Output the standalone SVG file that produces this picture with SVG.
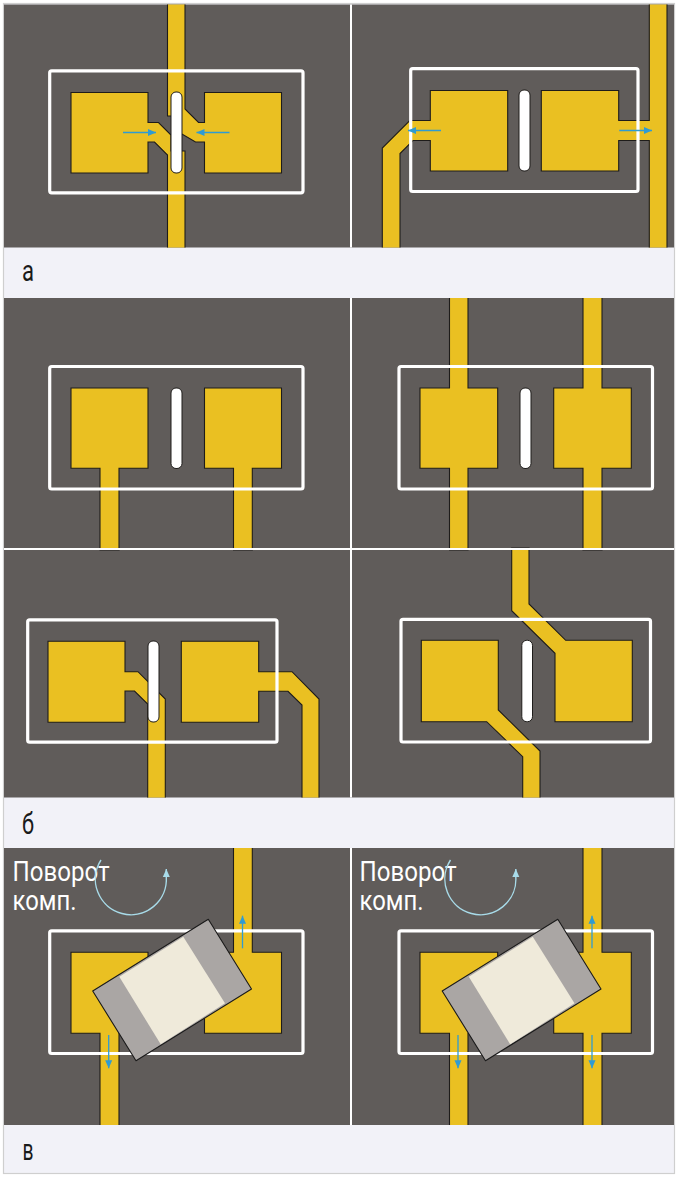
<svg xmlns="http://www.w3.org/2000/svg" width="677" height="1180" viewBox="0 0 677 1180">
<style>
.panel{fill:#605c5a}
.pad{fill:#eac022;stroke:#1e1c1a;stroke-width:1.1;stroke-linejoin:miter;clip-path:url(#pc)}
.frame{fill:none;stroke:#fff;stroke-width:3.2}
.slot{fill:#fff;stroke:#1e1c1a;stroke-width:1}
.ar{fill:none;stroke:#2f9bd3;stroke-width:1.3;marker-end:url(#ah)}
.rot{fill:none;stroke:#a8dbe9;stroke-width:1.4;marker-end:url(#rh)}
.lab{font-family:"Roboto","Liberation Sans",sans-serif;font-weight:400;font-size:28px;fill:#fff}
.capt{font-family:"Roboto","Liberation Sans",sans-serif;font-size:30px;fill:#1a1a1a}
.body{fill:#aaa6a4;stroke:#1a1a1a;stroke-width:1.1;stroke-linejoin:round}
.mid{fill:#efeada}
</style>
<defs>
<clipPath id="pc">
<rect x="4" y="4.500" width="670" height="243"/>
<rect x="4" y="298" width="670" height="250"/>
<rect x="4" y="550" width="670" height="247.500"/>
<rect x="4" y="848" width="670" height="277"/>
</clipPath>
<marker id="ah" markerUnits="userSpaceOnUse" markerWidth="9" markerHeight="8" refX="8" refY="4" orient="auto"><path d="M0,0.500L8,4L0,7.500Z" fill="#2f9bd3"/></marker>
<marker id="rh" markerUnits="userSpaceOnUse" markerWidth="9" markerHeight="8" refX="8" refY="4" orient="auto"><path d="M0,0.500L8,4L0,7.500Z" fill="#a8dbe9"/></marker>
<g id="chip"><path class="body" d="M92.700,991L208.300,919.300L251.500,989L136,1060.700Z"/><path class="mid" d="M119.300,976.700L183.300,936.700L225,1003.300L160.700,1044.300Z"/></g>
</defs>
<rect x="0" y="0" width="677" height="1180" fill="#fff"/>
<rect x="3.500" y="3.500" width="671" height="1170" fill="#f2f2f8" stroke="#cfcfcf" stroke-width="1.200"/>
<g id="panels">
<rect class="panel" x="4" y="4.500" width="670" height="243"/>
<rect class="panel" x="4" y="298" width="670" height="250"/>
<rect class="panel" x="4" y="550" width="670" height="247.500"/>
<rect class="panel" x="4" y="848" width="670" height="277"/>
<path d="M351,4.500V247.500M351,298V797.500M351,848V1125" stroke="#fff" stroke-width="2" fill="none"/>
<path d="M4,549H674" stroke="#fff" stroke-width="2" fill="none"/>
</g>

<g id="a-left">
<path class="pad" d="M71,92.500H148V122.500H158.500L171,135V151H185V250H167.500V155L154.500,142H148V173H71Z"/>
<path class="pad" d="M281.500,92.500H204.500V122.500H198.500L185,109V2H167.500V116H175V130L195.500,142H204.500V173H281.500Z"/>
<rect class="frame" x="49.700" y="70.800" width="253.300" height="122" rx="2"/>
<rect class="slot" x="171" y="92" width="11" height="81" rx="5"/>
</g>
<g id="a-right">
<path class="pad" d="M430.300,90.500H507.700V171H430.300V140.500H413L400,153.500V250H382.300V148L409.800,120.500H430.300Z"/>
<path class="pad" d="M618.700,90.500H541.300V171H618.700V140.500H649.300V250H667V2H649.300V120.500H618.700Z"/>
<rect class="frame" x="410.700" y="68.700" width="227.300" height="122.800" rx="2"/>
<rect class="slot" x="519" y="90" width="11" height="81" rx="5"/>
</g>
<text class="capt" x="22" y="281" textLength="12" lengthAdjust="spacingAndGlyphs">а</text>

<g id="b1-left">
<path class="pad" d="M71,388H148V468.300H119V550H100V468.300H71Z"/>
<path class="pad" d="M204.500,388H281.500V468.300H252.300V550H233.500V468.300H204.500Z"/>
<rect class="frame" x="49.700" y="366.500" width="253.300" height="122.500" rx="2"/>
<rect class="slot" x="171" y="388" width="11" height="80.500" rx="5"/>
</g>
<g id="b1-right">
<path class="pad" d="M420,388H449.500V296H468V388H497.700V468.300H468V550H449.500V468.300H420Z"/>
<path class="pad" d="M553.700,388H583V296H602V388H631.300V468.300H602V550H583V468.300H553.700Z"/>
<rect class="frame" x="399" y="366.500" width="253.500" height="122.500" rx="2"/>
<rect class="slot" x="520" y="388" width="11" height="80.500" rx="5"/>
</g>

<g id="b2-left">
<path class="pad" d="M48,641.300H125V671.700H138L165.300,699V800H147.700V704L134.500,691H125V722.300H48Z"/>
<path class="pad" d="M258.700,641.300V671.700H292L319,699V800H302V705L288,691.300H258.700V722.300H181.300V641.300Z"/>
<rect class="frame" x="27.700" y="619.800" width="249.300" height="122.400" rx="2"/>
<rect class="slot" x="148" y="641" width="11" height="81" rx="5"/>
</g>
<g id="b2-right">
<path class="pad" d="M421.300,640.300H498.300V710L540,751V800H522.700V756.700L486.700,721.700H421.300Z"/>
<path class="pad" d="M632.300,640.300V721.700H555V653.300L511.700,610.700V548H529V604L565.700,640.300Z"/>
<rect class="frame" x="401" y="619.300" width="249.500" height="122.700" rx="2"/>
<rect class="slot" x="521.800" y="640.300" width="10.700" height="81.400" rx="5"/>
</g>
<text class="capt" x="22" y="834" textLength="12" lengthAdjust="spacingAndGlyphs">б</text>

<g id="c-left">
<path class="pad" d="M71,952.300H148V1033.300H119V1127H100V1033.300H71Z"/>
<path class="pad" d="M204.500,952.300H233.500V846H252.300V952.300H281.500V1033.300H204.500Z"/>
<rect class="frame" x="49.700" y="930.800" width="253.300" height="122.700" rx="2"/>
<use href="#chip"/>
<text class="lab" x="12.500" y="881" textLength="97" lengthAdjust="spacingAndGlyphs">Поворот</text>
<text class="lab" x="12.500" y="910" textLength="64" lengthAdjust="spacingAndGlyphs">комп.</text>
</g>
<g id="c-right">
<path class="pad" d="M420,952.300H497.700V1033.300H468V1127H449.500V1033.300H420Z"/>
<path class="pad" d="M553.700,952.300H583V846H602V952.300H631.300V1033.300H602V1127H583V1033.300H553.700Z"/>
<rect class="frame" x="399" y="930.800" width="253.500" height="122.700" rx="2"/>
<use href="#chip" x="349.500"/>
<text class="lab" x="359.500" y="881" textLength="97" lengthAdjust="spacingAndGlyphs">Поворот</text>
<text class="lab" x="359.500" y="910" textLength="64" lengthAdjust="spacingAndGlyphs">комп.</text>
</g>
<text class="capt" x="22.500" y="1160" textLength="11" lengthAdjust="spacingAndGlyphs">в</text>

<g id="connectors">
<path class="ar" d="M123,132.500H156"/>
<path class="ar" d="M229.500,132.500H196.500"/>
<path class="ar" d="M441,130.500H408"/>
<path class="ar" d="M619.300,130.500H652"/>
<path class="ar" d="M242.500,948.300V915.700"/>
<path class="ar" d="M108.700,1035V1068.300"/>
<path class="ar" d="M592,948.300V915.700"/>
<path class="ar" d="M458,1035V1068.300"/>
<path class="ar" d="M592,1035V1068.300"/>
<path class="rot" d="M101,860A35.500,35.500 0 1 0 166.300,877V869"/>
<path class="rot" d="M450.500,860A35.500,35.500 0 1 0 515.800,877V869"/>
</g>
</svg>
